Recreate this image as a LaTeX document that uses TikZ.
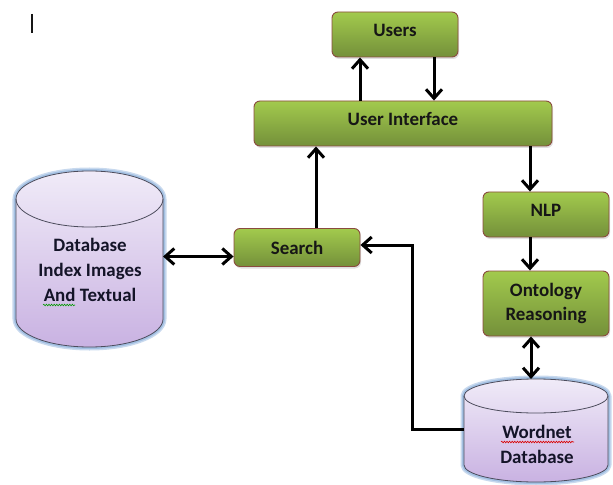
\documentclass[tikz,border=0pt]{standalone}
\usepackage{fontspec}
\setmainfont{Carlito}
\usetikzlibrary{arrows.meta,shadows,decorations.pathmorphing,calc}

\definecolor{boxtop}{HTML}{A2CA4D}
\definecolor{boxbot}{HTML}{74903A}
\definecolor{boxedge}{HTML}{8A4B3E}
\definecolor{cyltop}{HTML}{F0EBF8}
\definecolor{cylbot}{HTML}{C9B2E2}
\definecolor{cyledge}{HTML}{4C4C5C}
\definecolor{cylglow}{HTML}{A3C0E2}
\definecolor{ink}{HTML}{161616}
\definecolor{dbink}{HTML}{141428}

% outline of a drum inside the bounds of node #1, caps of half height #2, drawn with style #3
\newcommand\drumpass[3]{%
  \path let \p1=(#1.north west), \p2=(#1.south east), \n1={(\x2-\x1)/2} in
    [line join=round, #3]
    (\x1,\y1-#2) -- (\x1,\y2+#2)
    arc[start angle=180, end angle=360, x radius=\n1, y radius=#2]
    -- (\x2,\y1-#2)
    arc[start angle=0, end angle=180, x radius=\n1, y radius=#2] -- cycle;
}
% a complete database drum: glow, shaded body, outline, front rim of the top cap
\newcommand\dbdrum[2]{%
  \drumpass{#1}{#2}{draw=cylglow!60, line width=7bp}
  \drumpass{#1}{#2}{draw=cylglow, line width=4bp}
  \drumpass{#1}{#2}{top color=cyltop, bottom color=cylbot}
  \drumpass{#1}{#2}{draw=cyledge, line width=0.8bp}
  \path let \p1=(#1.north west), \p2=(#1.south east), \n1={(\x2-\x1)/2} in
    [draw=cyledge, line width=0.8bp]
    (\x1,\y1-#2) arc[start angle=180, end angle=360, x radius=\n1, y radius=#2];
}

\begin{document}
\begin{tikzpicture}[x=1bp, y=-1bp,
  procbox/.style={draw=boxedge, line width=0.9bp, rounded corners=6bp,
    top color=boxtop, bottom color=boxbot,
    minimum width=126bp, minimum height=45bp, inner sep=0pt,
    font=\fontsize{19}{24}\selectfont\bfseries, text=ink, align=center,
    drop shadow={opacity=0.25, shadow xshift=1bp, shadow yshift=-2bp}},
  lifted/.style={text height=13bp, text depth=8bp},
  drumbounds/.style={inner sep=0pt, outer sep=0pt},
  drumtext/.style={font=\fontsize{19}{25}\selectfont\bfseries, text=dbink, align=center},
  flow/.style={line width=3bp, -{Straight Barb[length=9bp, width=16bp]}},
  twoway/.style={line width=3bp, {Straight Barb[length=9bp, width=16bp]}-{Straight Barb[length=9bp, width=16bp]}},
  squiggle/.style={line width=0.6bp, decorate,
    decoration={snake, amplitude=0.8bp, segment length=2.6bp}}]

\useasboundingbox (0,0) rectangle (613,485);

% text cursor mark
\draw[line width=1.6bp, ink] (32,14) -- (32,33);

% process boxes
\node[procbox, lifted] (users)  at (395,34.5)  {Users};
\node[procbox, lifted, minimum width=298bp] (ui) at (403,123.5) {User Interface};
\node[procbox, minimum height=38bp] (search) at (297,247.5) {Search};
\node[procbox, lifted] (nlp)    at (546,214.5) {NLP};
\node[procbox, minimum height=65bp] (onto) at (546,303.5) {Ontology\\Reasoning};

% databases
\node[drumbounds, minimum width=147bp, minimum height=176bp] (imgdb) at (89.5,259) {};
\dbdrum{imgdb}{28bp}
\node[drumtext] (imgdbtext) at (90,270) {Database\\Index Images\\And Textual};

\node[drumbounds, minimum width=144bp, minimum height=103bp] (wordnet) at (536,430.5) {};
\dbdrum{wordnet}{17bp}
\node[drumtext] (wordnettext) at (537,444.5) {Wordnet\\Database};

% spelling marks under words
\draw[squiggle, green!60!black] (43,305) -- (75,305);
\draw[squiggle, red!85!black] (501,442) -- (574,442);

% connectors
\draw[flow] ([xshift=-35bp]users.south |- ui.north) -- ([xshift=-35bp]users.south);
\draw[flow] ([xshift=39bp]users.south) -- ([xshift=39bp]users.south |- ui.north);
\draw[flow] ([xshift=19bp]search.north) -- ([xshift=19bp]search.north |- ui.south);
\draw[flow] ([xshift=-16bp]nlp.north |- ui.south) -- ([xshift=-16bp]nlp.north);
\draw[flow] ([xshift=-16bp]nlp.south) -- ([xshift=-16bp]onto.north);
\draw[twoway] ([xshift=-15bp]onto.south) -- ([xshift=-15bp]onto.south |- wordnet.north);
\draw[twoway] ([yshift=2.5bp]imgdb.east) -- ([yshift=2.5bp]imgdb.east -| search.west);
\draw[flow, line join=miter] ([yshift=1.5bp]wordnet.west) -- ++(-52,0) |- ([yshift=2.5bp]search.east);
\end{tikzpicture}
\end{document}
